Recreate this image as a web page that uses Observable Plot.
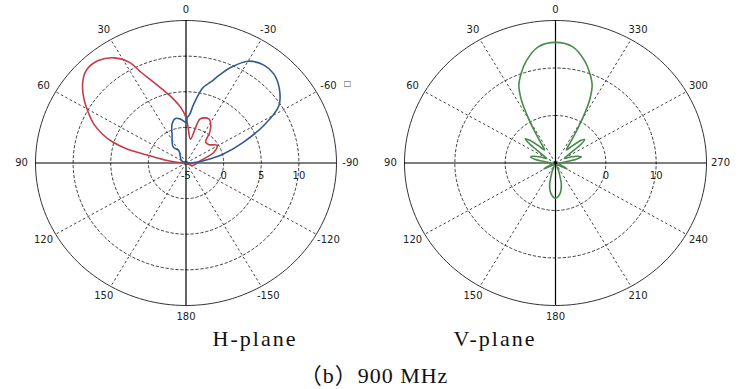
<!DOCTYPE html>
<html><head><meta charset="utf-8">
<script src="https://cdn.jsdelivr.net/npm/d3@7"></script>
<script src="https://cdn.jsdelivr.net/npm/@observablehq/plot@0.6"></script>
<style>
body{margin:0;background:#fff;}
#wrap{position:relative;width:750px;height:389px;overflow:hidden;background:#fff;}
#left{position:absolute;left:0;top:0;}
#right{position:absolute;left:372px;top:0;}
.cap{position:absolute;font-family:"Liberation Serif","Noto Sans CJK SC",serif;font-size:22px;line-height:22px;text-align:center;color:#111;white-space:nowrap;}
</style></head><body>
<div id="wrap">
<div id="left"></div><div id="right"></div>
<div class="cap" style="left:155px;top:328px;width:200px;letter-spacing:2px">H-plane</div>
<div class="cap" style="left:395px;top:328px;width:200px;letter-spacing:2px">V-plane</div>
<div class="cap" style="left:224px;top:365px;width:300px;letter-spacing:1px">（b）900 MHz</div>
</div>
<script>
// ---- H-plane ----
const hRange = [-5, 15];
const hRingValues = [0, 5, 10];
const hRingLabelValues = [-5, 0, 5, 10];
const hAngleTicks = [0, 30, 60, 90, 120, 150, 180, 210, 240, 270, 300, 330];
const hAngleLabels = ["0", "30", "60", "90", "120", "150", "180", "-150", "-120", "-90", "-60", "-30"];
const hRedAngle = [0, 5, 10, 14, 19, 23, 25.5, 28, 33, 39, 45, 50, 56, 61, 66, 70, 73, 76, 78, 81, 85, 90, -113, -80, -68, -59, -50, -42, -36, -31, -26, -17, -15, -10, -3.4];
const hRedDb = [1.4, 2.8, 4.0, 5.0, 6.5, 8.0, 9.3, 11.0, 12.6, 13.5, 13.6, 12.9, 11.4, 9.9, 8.4, 6.8, 5.3, 3.0, 0.0, -2.0, -3.8, -5, -4.1, -3.0, -1.0, -0.2, -1.0, -1.1, 0.4, 1.4, 1.9, 1.5, 0.7, -1.6, -0.1];
const hBlueAngle = [0, 6.7, 12.7, 18.5, 25.5, 37.4, 28.6, 61, 180, -84, -80, -75.5, -69, -63, -57, -50, -43, -37, -30, -24, -20, -16, -12, -7, -4, -1.5];
const hBlueDb = [0.7, 1.2, 1.4, 0.8, -0.7, -2.2, -3.0, -4.3, -5, -3.1, -1.8, 0.2, 3.2, 6.6, 9.7, 11.2, 12.1, 12.2, 11.5, 9.7, 8.2, 6.8, 5.8, 3.3, 1.8, 1.4];

// ---- V-plane ----
const vRange = [-10, 20];
const vRingValues = [0, 10];
const vRingLabelValues = [0, 10];
const vAngleTicks = [0, 30, 60, 90, 120, 150, 180, 210, 240, 270, 300, 330];
const vAngleLabels = ["0", "30", "60", "90", "120", "150", "180", "210", "240", "270", "300", "330"];
const vGreenAngle = [0, 8, 15, 20, 24, 27, 29, 31, 34, 38, 43, 47, 49.5, 52, 56, 62, 68, 73, 76, 79, 85, 100, 112, 118, 124, 150, 160, 166, 172, 180, 188, 194, 200, 210, 236, 242, 248, 260, 275, 281, 284, 287, 292, 298, 304, 308, 310.5, 313, 317, 322, 326, 329, 331, 333, 336, 340, 345, 352];
const vGreenDb = [15.4, 14.7, 12.3, 10.0, 7.9, 5.0, 2.0, -1.0, -4.5, -6.5, -5.0, -3.0, -2.1, -3.5, -7.0, -8.0, -6.5, -5.2, -4.9, -5.8, -8.5, -9.3, -8.8, -7.4, -9.0, -9.5, -8.0, -5.2, -3.5, -2.6, -3.5, -5.2, -8.0, -9.5, -9.0, -7.4, -8.8, -9.3, -8.5, -5.8, -4.7, -5.2, -6.5, -8.0, -7.0, -3.5, -2.4, -3.0, -5.0, -6.5, -4.5, -1.0, 2.0, 5.0, 7.9, 10.0, 12.3, 14.7];

function panel(o) {
  const [lo, hi] = o.range;
  const norm = v => Math.max(0, Math.min(1, (v - lo) / (hi - lo)));
  const rad = a => a * Math.PI / 180;
  const px = (a, r) => -r * Math.sin(rad(a));
  const py = (a, r) => r * Math.cos(rad(a));
  const circ = d3.range(0, 361, 2);
  const ringPts = o.rings.flatMap(v => circ.map(a => ({ring: v, x: px(a, norm(v)), y: py(a, norm(v))})));
  const outerPts = circ.map(a => ({x: px(a, 1), y: py(a, 1)}));
  const spokes = o.angleTicks.filter(a => a % 90 !== 0).map(a => ({x1: 0, y1: 0, x2: px(a, 1), y2: py(a, 1)}));
  const angLab = o.angleTicks.map((a, i) => ({x: -1.093 * Math.sin(rad(a)), y: 1.077 * Math.cos(rad(a)), t: o.angleLabels[i]}));
  const radLab = o.ringLabels.map(v => ({x: norm(v), y: 0, t: String(v)}));
  const seriesMarks = o.series.map(s => Plot.line(
    s.angle.map((a, i) => ({x: px(a, norm(s.db[i])), y: py(a, norm(s.db[i]))})),
    {x: "x", y: "y", stroke: s.color, strokeWidth: 1.6, curve: "catmull-rom-closed"}));
  const marks = [
    Plot.line(ringPts, {x: "x", y: "y", z: "ring", stroke: "#111", strokeWidth: 0.8, strokeDasharray: "2.5,2.5"}),
    Plot.link(spokes, {x1: "x1", y1: "y1", x2: "x2", y2: "y2", stroke: "#111", strokeWidth: 0.8, strokeDasharray: "2.5,2.5"}),
    Plot.line(outerPts, {x: "x", y: "y", stroke: "#333", strokeWidth: 1}),
    Plot.ruleX([0], {stroke: "#000", strokeWidth: 1.2}),
    Plot.ruleY([0], {stroke: "#000", strokeWidth: 1.2}),
    Plot.text(radLab, {x: "x", y: "y", text: "t", dy: 13, fill: "#222", fontSize: 10}),
    ...seriesMarks,
    Plot.text(angLab, {x: "x", y: "y", text: "t", fill: "#222", fontSize: 10})
  ];
  if (o.extra) marks.push(Plot.text([angLab[o.extra.index]], {x: "x", y: "y", text: () => o.extra.text, dx: 19, dy: -3, fill: "#444", fontSize: 8}));
  return Plot.plot({
    width: o.width, height: 325,
    marginLeft: o.ml, marginRight: o.mr, marginTop: 20, marginBottom: 20,
    x: {domain: [-1, 1], axis: null},
    y: {domain: [-1, 1], axis: null},
    style: {fontFamily: "DejaVu Sans", fontSize: "10px", background: "#fff", overflow: "visible"},
    marks
  });
}

document.getElementById("left").append(panel({
  width: 372, ml: 35, mr: 36, range: hRange, rings: hRingValues, ringLabels: hRingLabelValues,
  angleTicks: hAngleTicks, angleLabels: hAngleLabels,
  series: [
    {angle: hRedAngle, db: hRedDb, color: "#c43c48"},
    {angle: hBlueAngle, db: hBlueDb, color: "#2f5a92"}
  ],
  extra: {index: 10, text: "□"}
}));
document.getElementById("right").append(panel({
  width: 378, ml: 32, mr: 44, range: vRange, rings: vRingValues, ringLabels: vRingLabelValues,
  angleTicks: vAngleTicks, angleLabels: vAngleLabels,
  series: [{angle: vGreenAngle, db: vGreenDb, color: "#4a8a4a"}]
}));
</script>
</body></html>
